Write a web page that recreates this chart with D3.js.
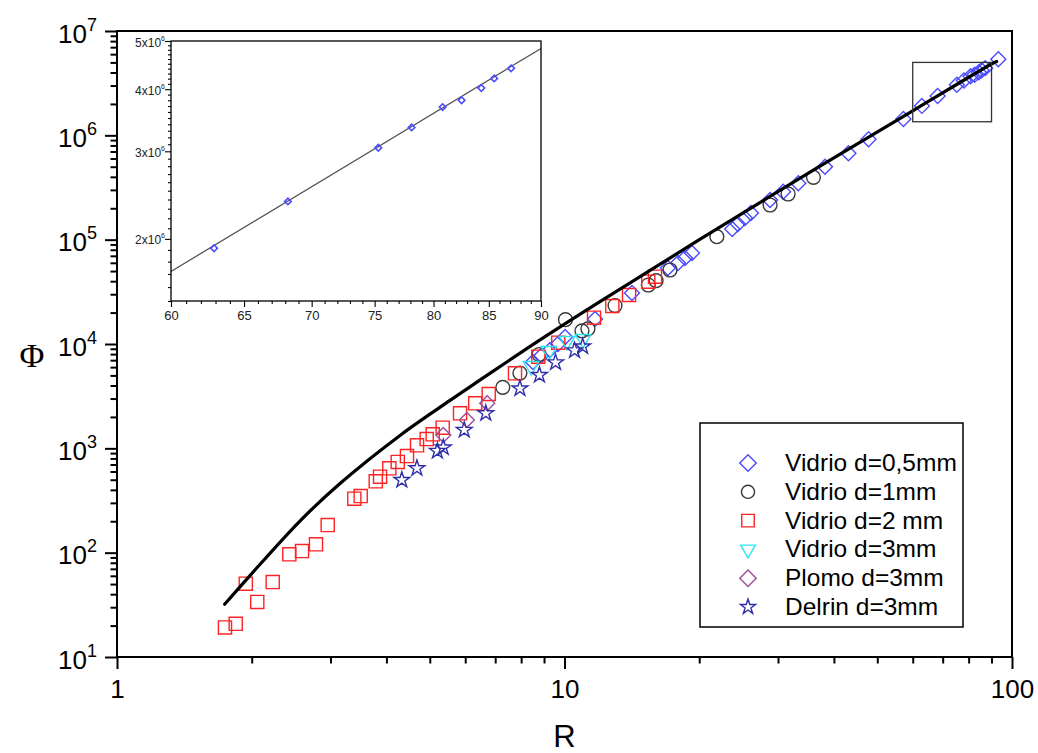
<!DOCTYPE html>
<html>
<head>
<meta charset="utf-8">
<script src="https://cdn.jsdelivr.net/npm/d3@7/dist/d3.min.js"></script>
<style>
  body { margin: 0; background: #fff; }
  text { font-family: "Liberation Sans", Arial, sans-serif; }
</style>
</head>
<body>
<svg id="chart" width="1038" height="753"></svg>
<script>
// values, each point is [R, Phi]
const vidrio05 = [[8.50, 6720], [8.86, 7670], [9.28, 8760], [9.67, 10000], [10.03, 11670], [11.70, 17370],
  [14.15, 30800], [17.03, 53500], [17.93, 59800], [18.59, 66700], [19.27, 74500], [23.7, 126600],
  [24.4, 141300], [25.3, 161300], [26.1, 180200], [28.8, 240000], [30.8, 288000], [33.3, 347000],
  [38.2, 500000], [43.1, 673000], [47.8, 916000], [57.2, 1.434e6], [62.9, 1.915e6], [68.2, 2.379e6],
  [75.3, 3.049e6], [78.1, 3.351e6], [80.8, 3.682e6], [82.5, 3.80e6], [84.3, 4.021e6], [85.5, 4.205e6],
  [87.1, 4.405e6], [93.2, 5.35e6]];
const vidrio1 = [[7.28, 3840], [7.95, 5270], [8.77, 7930], [10.05, 17090], [10.94, 13330], [11.28, 13930],
  [12.97, 23380], [15.39, 36760], [16.02, 40420], [17.21, 51200], [21.9, 106700], [28.8, 214900],
  [31.6, 274000], [36.0, 396000]];
const vidrio2 = [[1.743, 19.2], [1.842, 20.8], [1.940, 50.4], [2.058, 33.7], [2.228, 52.3], [2.427, 96.4],
  [2.591, 103.7], [2.784, 120.2], [2.957, 184], [3.391, 329], [3.504, 349], [3.786, 483], [3.871, 535],
  [4.060, 644], [4.240, 740], [4.446, 844], [4.682, 1069], [4.921, 1228], [5.076, 1362], [5.343, 1577],
  [5.842, 2167], [6.318, 2701], [6.770, 3317], [7.751, 5236], [8.739, 7555], [9.685, 10290],
  [11.64, 17870], [12.79, 23130], [13.94, 29490], [15.39, 39560], [15.93, 44160]];
const vidrio3 = [[8.42, 6150], [9.23, 8570], [10.13, 10680], [11.00, 11160]];
const plomo3 = [[5.36, 1342], [6.05, 1869], [6.72, 2700]];
const delrin3 = [[4.33, 497], [4.68, 644], [5.20, 943], [5.36, 1018], [5.97, 1499], [6.67, 2167],
  [7.95, 3744], [8.79, 5045], [9.55, 6650], [10.53, 8664], [10.98, 9462]];

// model curve, read at a handful of places
const fitCurve = [[1.74, 32], [1.98, 60], [2.56, 200], [3.15, 460], [4.29, 1330], [5.55, 2880],
  [6.47, 4500], [8.8, 10900], [12.0, 25500], [15.5, 50500], [20.1, 101000], [36.6, 485000],
  [60, 1.72e6], [90, 4.83e6], [92.4, 5.1e6]];

const xMajor = [1, 10, 100];
const yExponents = [1, 2, 3, 4, 5, 6, 7];
const insetXTicks = [60, 65, 70, 75, 80, 85, 90];
const insetYTicks = [2, 3, 4, 5]; // x10^6

const series = [
  { label: 'Vidrio d=0,5mm', data: vidrio05, shape: 'diamond', color: '#4b4bff' },
  { label: 'Vidrio d=1mm', data: vidrio1, shape: 'circle', color: '#3a3a3a' },
  { label: 'Vidrio d=2 mm', data: vidrio2, shape: 'square', color: '#ff2222' },
  { label: 'Vidrio d=3mm', data: vidrio3, shape: 'triangle', color: '#2ee3f0' },
  { label: 'Plomo d=3mm', data: plomo3, shape: 'diamond', color: '#9b4f9b' },
  { label: 'Delrin d=3mm', data: delrin3, shape: 'star', color: '#2e2eaa' }
];

const svg = d3.select('#chart');
const plot = { left: 117, right: 1012, top: 31, bottom: 657 };

const x = d3.scaleLog().domain([1, 100]).range([plot.left, plot.right]);
const y = d3.scaleLog().domain([10, 1e7]).range([plot.bottom, plot.top]);

// marker shapes
function markerPath(shape, scale) {
  const k = scale || 1;
  if (shape === 'diamond') return d3.symbol(d3.symbolSquare, 112 * k * k)();
  if (shape === 'circle') return d3.symbol(d3.symbolCircle, 150 * k * k)();
  if (shape === 'square') return d3.symbol(d3.symbolSquare, 172 * k * k)();
  if (shape === 'triangle') return d3.symbol(d3.symbolTriangle, 105 * k * k)();
  return d3.symbol(d3.symbolStar, 78 * k * k)();
}
function markerRotate(shape) {
  if (shape === 'diamond') return ' rotate(45)';
  if (shape === 'triangle') return ' rotate(180)';
  return '';
}

// ---- main axes
const xMinor = [];
for (let dec = 1; dec < 100; dec *= 10) for (let m = 2; m <= 9; m++) xMinor.push(m * dec);
const yMinor = [];
for (let e = 1; e < 7; e++) for (let m = 2; m <= 9; m++) yMinor.push(m * Math.pow(10, e));

const xAxisMinor = svg.append('g')
  .attr('transform', `translate(0,${plot.bottom})`)
  .call(d3.axisBottom(x).tickValues(xMinor).tickSize(6.5).tickSizeOuter(0).tickFormat(''));
const xAxisMajor = svg.append('g')
  .attr('transform', `translate(0,${plot.bottom})`)
  .call(d3.axisBottom(x).tickValues(xMajor).tickSize(12).tickSizeOuter(0)
    .tickFormat(d3.format('d')));
const yAxisMinor = svg.append('g')
  .attr('transform', `translate(${plot.left},0)`)
  .call(d3.axisLeft(y).tickValues(yMinor).tickSize(6.5).tickSizeOuter(0).tickFormat(''));
const yAxisMajor = svg.append('g')
  .attr('transform', `translate(${plot.left},0)`)
  .call(d3.axisLeft(y).tickValues(yExponents.map(e => Math.pow(10, e))).tickSize(12)
    .tickSizeOuter(0).tickFormat(''));

[xAxisMinor, xAxisMajor, yAxisMinor, yAxisMajor].forEach(g => {
  g.select('.domain').remove();
  g.selectAll('.tick line').attr('stroke', '#000').attr('stroke-width', 2);
});

xAxisMajor.selectAll('.tick text')
  .attr('font-family', '"Liberation Sans", Arial, sans-serif')
  .attr('font-size', 26)
  .attr('fill', '#000')
  .attr('y', 41)
  .attr('dy', null);

yAxisMajor.selectAll('.tick text').each(function (d) {
  const t = d3.select(this)
    .attr('font-family', '"Liberation Sans", Arial, sans-serif')
    .attr('fill', '#000')
    .attr('x', -20)
    .attr('dy', null)
    .attr('y', 11)
    .attr('text-anchor', 'end');
  t.append('tspan').attr('font-size', 26).text('10');
  t.append('tspan').attr('font-size', 18).attr('dy', -12).text(Math.round(Math.log10(d)));
});

// frame
svg.append('rect')
  .attr('x', plot.left).attr('y', plot.top)
  .attr('width', plot.right - plot.left).attr('height', plot.bottom - plot.top)
  .attr('fill', 'none').attr('stroke', '#000').attr('stroke-width', 2);

// axis titles
svg.append('text')
  .attr('x', (plot.left + plot.right) / 2).attr('y', 747)
  .attr('text-anchor', 'middle').attr('font-size', 31).text('R');
svg.append('text')
  .attr('x', 32).attr('y', 367)
  .attr('text-anchor', 'middle').attr('font-size', 34)
  .style('font-family', '"Liberation Serif", "DejaVu Serif", serif')
  .text('Φ');

// ---- data markers
const marks = svg.append('g');
series.forEach(s => {
  marks.append('g').selectAll('path')
    .data(s.data)
    .join('path')
    .attr('d', markerPath(s.shape))
    .attr('transform', d => `translate(${x(d[0])},${y(d[1])})` + markerRotate(s.shape))
    .attr('fill', 'none')
    .attr('stroke', s.color)
    .attr('stroke-width', 1.4);
});

// model curve
const line = d3.line()
  .x(d => x(d[0]))
  .y(d => y(d[1]))
  .curve(d3.curveCatmullRom.alpha(0.5));
svg.append('path')
  .datum(fitCurve)
  .attr('d', line)
  .attr('fill', 'none')
  .attr('stroke', '#000')
  .attr('stroke-width', 3.2)
  .attr('stroke-linecap', 'round');

// zoom box on the main plot
svg.append('rect')
  .attr('x', x(60)).attr('y', y(5e6))
  .attr('width', x(90) - x(60)).attr('height', y(1.35e6) - y(5e6))
  .attr('fill', 'none').attr('stroke', '#333').attr('stroke-width', 1.3);

// ---- inset
const inset = { left: 171, right: 541, top: 41, bottom: 301 };
const ix = d3.scaleLog().domain([60, 90]).range([inset.left, inset.right]);
const iy = d3.scaleLog().domain([1.5e6, 5e6]).range([inset.bottom, inset.top]);

const insetG = svg.append('g');
insetG.append('rect')
  .attr('x', inset.left).attr('y', inset.top)
  .attr('width', inset.right - inset.left).attr('height', inset.bottom - inset.top)
  .attr('fill', '#fff').attr('stroke', 'none');

const ixMinor = d3.range(60, 91).filter(v => v % 5 !== 0);
const iyMinor = d3.range(15, 51).filter(v => v % 10 !== 0).map(v => v * 1e5);

const ixAxisMinor = insetG.append('g')
  .attr('transform', `translate(0,${inset.bottom})`)
  .call(d3.axisBottom(ix).tickValues(ixMinor).tickSize(3).tickSizeOuter(0).tickFormat(''));
const ixAxisMajor = insetG.append('g')
  .attr('transform', `translate(0,${inset.bottom})`)
  .call(d3.axisBottom(ix).tickValues(insetXTicks).tickSize(6).tickSizeOuter(0).tickPadding(4)
    .tickFormat(d3.format('d')));
const iyAxisMinor = insetG.append('g')
  .attr('transform', `translate(${inset.left},0)`)
  .call(d3.axisLeft(iy).tickValues(iyMinor).tickSize(3).tickSizeOuter(0).tickFormat(''));
const iyAxisMajor = insetG.append('g')
  .attr('transform', `translate(${inset.left},0)`)
  .call(d3.axisLeft(iy).tickValues(insetYTicks.map(v => v * 1e6)).tickSize(6).tickSizeOuter(0)
    .tickFormat(''));

[ixAxisMinor, ixAxisMajor, iyAxisMinor, iyAxisMajor].forEach(g => {
  g.select('.domain').remove();
  g.selectAll('.tick line').attr('stroke', '#000').attr('stroke-width', 1.1);
});
ixAxisMajor.selectAll('.tick text')
  .attr('font-family', '"Liberation Sans", Arial, sans-serif')
  .attr('font-size', 13).attr('fill', '#222');
iyAxisMajor.selectAll('.tick text').each(function (d) {
  const t = d3.select(this)
    .attr('font-family', '"Liberation Sans", Arial, sans-serif')
    .attr('fill', '#222')
    .attr('x', -6)
    .attr('dy', null)
    .attr('y', 5)
    .attr('text-anchor', 'end');
  t.append('tspan').attr('font-size', 12).text(`${d / 1e6}x10`);
  t.append('tspan').attr('font-size', 7).attr('dy', -6).text('6');
});

insetG.append('clipPath').attr('id', 'insetClip')
  .append('rect')
  .attr('x', inset.left).attr('y', inset.top)
  .attr('width', inset.right - inset.left).attr('height', inset.bottom - inset.top);

const iline = d3.line().x(d => ix(d[0])).y(d => iy(d[1]));
insetG.append('path')
  .datum(fitCurve)
  .attr('clip-path', 'url(#insetClip)')
  .attr('d', iline)
  .attr('fill', 'none')
  .attr('stroke', '#555')
  .attr('stroke-width', 1.3);

insetG.append('g').selectAll('path')
  .data(vidrio05.filter(d => d[0] >= 60 && d[0] <= 90))
  .join('path')
  .attr('d', d3.symbol(d3.symbolSquare, 22)())
  .attr('transform', d => `translate(${ix(d[0])},${iy(d[1])}) rotate(45)`)
  .attr('fill', 'none')
  .attr('stroke', '#4b4bff')
  .attr('stroke-width', 1.6);

insetG.append('rect')
  .attr('x', inset.left).attr('y', inset.top)
  .attr('width', inset.right - inset.left).attr('height', inset.bottom - inset.top)
  .attr('fill', 'none').attr('stroke', '#000').attr('stroke-width', 1.3);

// ---- legend
const legend = svg.append('g');
legend.append('rect')
  .attr('x', 700).attr('y', 423).attr('width', 263).attr('height', 204)
  .attr('fill', '#fff').attr('stroke', '#000').attr('stroke-width', 1.5);
series.forEach((s, i) => {
  const cy = 463 + i * 28.8;
  legend.append('path')
    .attr('d', markerPath(s.shape, s.shape === 'diamond' ? 1.1 : 0.95))
    .attr('transform', `translate(748,${cy})` + markerRotate(s.shape))
    .attr('fill', 'none')
    .attr('stroke', s.color)
    .attr('stroke-width', 1.4);
  legend.append('text')
    .attr('x', 785).attr('y', cy + 8)
    .attr('font-size', 24.5)
    .attr('fill', '#000')
    .text(s.label);
});
</script>
</body>
</html>
